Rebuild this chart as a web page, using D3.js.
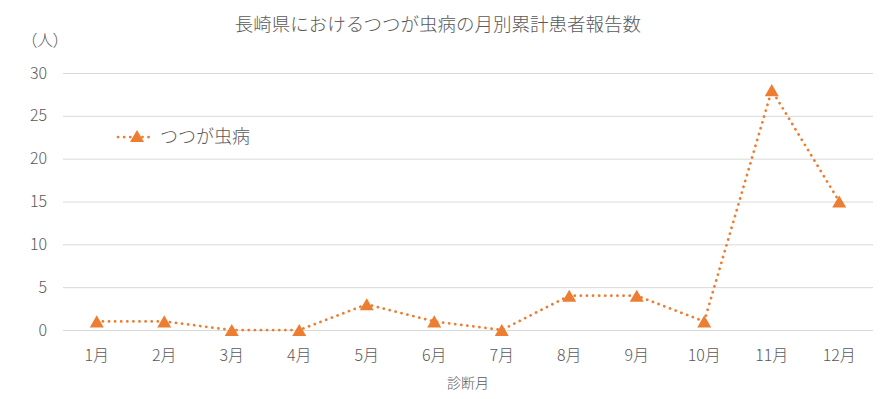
<!DOCTYPE html>
<html>
<head>
<meta charset="utf-8">
<script src="https://cdn.jsdelivr.net/npm/d3@7"></script>
<style>
  body { margin: 0; background: #fff; }
  svg text { font-family: "Noto Sans CJK JP", "Noto Sans", sans-serif; fill: #595959; }
</style>
</head>
<body>
<div id="chart"></div>
<script>
const months = ['1月','2月','3月','4月','5月','6月','7月','8月','9月','10月','11月','12月'];
const cases = [1, 1, 0, 0, 3, 1, 0, 4, 4, 1, 28, 15];
const yTicks = [0, 5, 10, 15, 20, 25, 30];
const seriesName = 'つつが虫病';

const width = 893, height = 399;
const plotLeft = 63, plotRight = 873, plotTop = 73, plotBottom = 330;
const orange = '#ED7D31';

const svg = d3.select('#chart').append('svg')
  .attr('width', width)
  .attr('height', height);

const x = d3.scalePoint().domain(months).range([plotLeft, plotRight]).padding(0.5);
const y = d3.scaleLinear().domain([0, 30]).range([plotBottom, plotTop]);

// grid
svg.append('g').selectAll('line')
  .data(yTicks)
  .join('line')
  .attr('x1', plotLeft).attr('x2', plotRight)
  .attr('y1', d => y(d) + 0.5).attr('y2', d => y(d) + 0.5)
  .attr('stroke', '#D9D9D9')
  .attr('stroke-width', 1);

// y labels
svg.append('g').selectAll('text')
  .data(yTicks)
  .join('text')
  .attr('x', 47)
  .attr('y', d => y(d))
  .attr('dy', '0.35em')
  .attr('text-anchor', 'end')
  .style('font-size', '16px')
  .style('font-weight', 300)
  .text(d => d);

// x labels
svg.append('g').selectAll('text')
  .data(months)
  .join('text')
  .attr('x', d => x(d))
  .attr('y', 355)
  .attr('dy', '0.35em')
  .attr('text-anchor', 'middle')
  .style('font-size', '16px')
  .style('font-weight', 300)
  .text(d => d);

// titles
svg.append('text')
  .attr('x', 438).attr('y', 25)
  .attr('dy', '0.35em')
  .attr('text-anchor', 'middle')
  .style('font-size', '18.5px')
  .style('font-weight', 300)
  .text('長崎県におけるつつが虫病の月別累計患者報告数');

svg.append('text')
  .attr('x', 45).attr('y', 40)
  .attr('dy', '0.35em')
  .attr('text-anchor', 'middle')
  .style('font-size', '16px')
  .style('font-weight', 300)
  .style('font-feature-settings', '"palt"')
  .text('（人）');

svg.append('text')
  .attr('x', 468).attr('y', 383)
  .attr('dy', '0.35em')
  .attr('text-anchor', 'middle')
  .style('font-size', '14px')
  .style('font-weight', 300)
  .text('診断月');

// series line
const line = d3.line()
  .x((d, i) => x(months[i]))
  .y(d => y(d));

svg.append('path')
  .datum(cases)
  .attr('d', line)
  .attr('fill', 'none')
  .attr('stroke', orange)
  .attr('stroke-width', 2.75)
  .attr('stroke-linecap', 'round')
  .attr('stroke-dasharray', '0.1 6');

const tri = d3.symbol().type(d3.symbolTriangle).size(85);

svg.append('g').selectAll('path')
  .data(cases)
  .join('path')
  .attr('d', tri)
  .attr('transform', (d, i) => `translate(${x(months[i])},${y(d) + 2})`)
  .attr('fill', orange);

// legend
const legend = svg.append('g').attr('transform', 'translate(118,137)');
legend.append('line')
  .attr('x1', 0).attr('x2', 32)
  .attr('stroke', orange)
  .attr('stroke-width', 2.75)
  .attr('stroke-linecap', 'round')
  .attr('stroke-dasharray', '0.1 6');
legend.append('path')
  .attr('d', tri)
  .attr('transform', 'translate(19,1)')
  .attr('fill', orange);
legend.append('text')
  .attr('x', 42).attr('y', 0)
  .attr('dy', '0.35em')
  .style('font-size', '18px')
  .style('font-weight', 300)
  .text(seriesName);
</script>
</body>
</html>
